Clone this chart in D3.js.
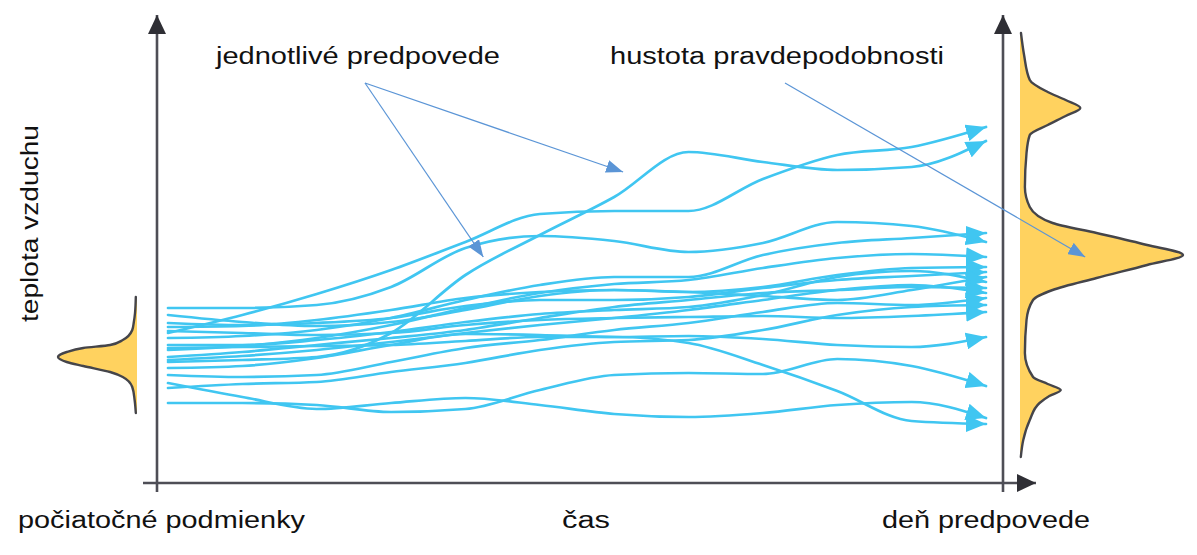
<!DOCTYPE html>
<html><head><meta charset="utf-8">
<script src="https://cdn.jsdelivr.net/npm/d3@7"></script>
<style>
html,body{margin:0;padding:0;background:#fff;}
svg{display:block;}
text{font-family:"Liberation Sans", Arial, sans-serif; fill:#111;}
</style>
</head><body>
<svg id="c" width="1197" height="555"></svg>
<script>
// ---- DATA (temperature index vs. time step) ----
const times = [0,1,2,3,4,5,6,7,8,9,10,11];
const f01 = [15.0,16.8,18.9,21.3,24.1,26.9,27.2,27.2,30.4,32.8,33.6,35.6];
const f02 = [12.1,12.3,12.6,15.0,20.8,24.8,28.6,33.1,32.1,31.3,31.6,34.2];
const f03 = [17.5,17.5,17.8,19.6,23.5,24.7,24.2,23.1,24.0,26.1,25.7,24.1];
const f04 = [10.0,8.6,7.4,8.0,8.5,7.8,6.9,6.6,7.0,7.8,8.1,6.5];
const f05 = [8.0,8.0,7.8,7.1,7.4,9.3,10.8,11.0,10.9,12.4,11.7,9.7];
const f06 = [13.5,13.6,13.7,13.8,14.2,14.6,14.6,14.0,11.8,9.2,6.2,5.9];
const f07 = [11.5,11.7,12.5,13.8,14.9,14.8,14.6,14.7,14.4,13.8,13.6,14.6];
const f08 = [14.5,14.7,15.3,16.5,18.3,19.8,20.6,20.6,22.8,24.0,24.5,25.0];
const f09 = [13.3,13.7,14.5,15.8,17.5,19.0,19.9,20.3,21.5,22.5,22.9,22.6];
const f10 = [16.8,16.1,15.7,16.1,17.3,18.7,19.3,19.1,19.6,20.8,21.5,21.6];
const f11 = [16.0,15.8,16.0,16.5,17.7,18.3,18.3,18.6,19.5,20.3,20.7,21.1];
const f12 = [15.6,15.7,16.3,17.3,18.5,19.1,19.3,19.1,18.7,18.3,19.3,20.6];
const f13 = [13.8,13.8,14.3,15.1,16.1,16.9,17.3,17.6,18.8,20.6,21.2,20.1];
const f14 = [12.6,13.1,13.8,14.5,15.3,16.5,17.6,18.3,19.0,19.3,19.6,19.5];
const f15 = [12.3,12.7,13.3,14.1,15.0,15.8,16.5,17.3,18.3,19.3,19.8,19.0];
const f16 = [10.8,10.6,10.8,12.1,13.5,14.3,15.3,16.0,17.1,18.0,17.8,18.5];
const f17 = [9.5,9.9,10.1,11.1,12.0,13.3,14.1,14.3,15.3,16.8,17.6,17.8];
const f18 = [15.2,15.0,14.8,15.0,15.8,16.3,16.5,16.6,16.7,16.5,16.7,17.1];
const forecasts = [f01,f02,f03,f04,f05,f06,f07,f08,f09,f10,f11,f12,f13,f14,f15,f16,f17,f18];

// initial-condition density (percent of peak)
const initTemp  = [18.6,17.0,16.1,15.3,14.3,13.8,13.5,13.1,12.6,12.1,11.7,11.1,10.6,9.6,8.3,7.0];
const initDens  = [1.5,2.5,4,6,18,34,68,89,100,89,68,34,18,6,3,1.5];
// forecast-day density (percent of peak)
const finalTemp = [45.0,42.8,40.3,39.1,38.3,37.5,36.7,35.8,34.8,33.0,29.6,27.6,26.0,25.0,23.8,22.8,21.8,20.5,19.3,18.3,16.3,13.0,10.6,9.9,9.3,8.7,8.0,6.3,4.3,2.6];
const finalDens = [0.6,2.5,6,17,28,37,28,17,6,4,3,6,20,47,78,100,78,47,20,8,4,3,8,17,25,18,12,6,2,0.5];

const yLabel = "teplota vzduchu";
const xLabelStart = "počiatočné podmienky";
const xLabelMid = "čas";
const xLabelEnd = "deň predpovede";
const noteMembers = "jednotlivé predpovede";
const noteDensity = "hustota pravdepodobnosti";

// ---- LAYOUT ----
const svg = d3.select("#c");
const axisX = 157, axisRight = 1003, axisY = 483;
const x = d3.scaleLinear().domain([0, 11]).range([168, 986]);
const y = d3.scaleLinear().domain([0, 46.5]).range([483, 18]);
const wLeft = d3.scaleLinear().domain([0, 100]).range([137, 58]);
const wRight = d3.scaleLinear().domain([0, 100]).range([1020, 1183]);

const lineColor = "#40c6f1";
const noteColor = "#5b95d6";
const axisColor = "#4e4e56";
const densFill = "#ffd25f";
const densStroke = "#45454a";

const defs = svg.append("defs");
function marker(id, color, len, half) {
  defs.append("marker").attr("id", id)
    .attr("markerUnits", "userSpaceOnUse")
    .attr("viewBox", `0 ${-half} ${len} ${2*half}`)
    .attr("markerWidth", len).attr("markerHeight", 2*half)
    .attr("refX", len).attr("refY", 0).attr("orient", "auto")
    .append("path").attr("d", `M0,${-half}L${len},0L0,${half}Z`).attr("fill", color);
}
marker("mLine", lineColor, 20, 8.5);
marker("mNote", noteColor, 17, 6.5);
marker("mAxis", "#2f2f35", 19, 9);

// ---- forecast lines ----
const lineGen = d3.line().x((d, i) => x(times[i])).y(d => y(d)).curve(d3.curveMonotoneX);
svg.append("g").selectAll("path").data(forecasts).join("path")
  .attr("d", d => lineGen(d))
  .attr("fill", "none").attr("stroke", lineColor).attr("stroke-width", 2.7)
  .attr("stroke-linecap", "round")
  .attr("marker-end", "url(#mLine)");

// ---- densities ----
const initData = initTemp.map((t, i) => ({t, v: initDens[i]}));
const finalData = finalTemp.map((t, i) => ({t, v: finalDens[i]}));
function drawDensity(data, w) {
  const area = d3.area().y(d => y(d.t)).x0(w(0)).x1(d => w(d.v)).curve(d3.curveMonotoneY);
  const edge = d3.line().y(d => y(d.t)).x(d => w(d.v)).curve(d3.curveMonotoneY);
  svg.append("path").attr("d", area(data)).attr("fill", densFill);
  svg.append("path").attr("d", edge(data)).attr("fill", "none")
    .attr("stroke", densStroke).attr("stroke-width", 2.4).attr("stroke-linecap", "round");
}
drawDensity(initData, wLeft);
drawDensity(finalData, wRight);

// ---- axes ----
const ax = svg.append("g").attr("stroke", axisColor).attr("stroke-width", 2.6);
ax.append("line").attr("x1", axisX).attr("y1", 492).attr("x2", axisX).attr("y2", 15).attr("marker-end", "url(#mAxis)");
ax.append("line").attr("x1", axisRight).attr("y1", 492).attr("x2", axisRight).attr("y2", 15).attr("marker-end", "url(#mAxis)");
ax.append("line").attr("x1", 143).attr("y1", axisY).attr("x2", 1036).attr("y2", axisY).attr("marker-end", "url(#mAxis)");

// ---- annotation arrows ----
const notes = [
  {x1: 365, y1: 83, x2: x(6.12), y2: y(31.1)},
  {x1: 365, y1: 83, x2: x(4.24), y2: y(22.6)},
  {x1: 785, y1: 83, x2: wRight(40), y2: y(22.6)}
];
svg.append("g").selectAll("line").data(notes).join("line")
  .attr("x1", d => d.x1).attr("y1", d => d.y1).attr("x2", d => d.x2).attr("y2", d => d.y2)
  .attr("stroke", noteColor).attr("stroke-width", 1.2).attr("marker-end", "url(#mNote)");

// ---- texts ----
const fs = 23.5;
function label(txt, xx, yy, len) {
  svg.append("text").attr("x", xx).attr("y", yy).attr("font-size", fs)
    .attr("textLength", len).attr("lengthAdjust", "spacingAndGlyphs").text(txt);
}
label(noteMembers, 216, 64, 284);
label(noteDensity, 610, 64, 334);
label(xLabelStart, 18, 528, 287);
label(xLabelMid, 562, 528, 48);
label(xLabelEnd, 882, 528, 208);
svg.append("text").attr("transform", "translate(38,322) rotate(-90)")
  .attr("font-size", fs).attr("textLength", 197).attr("lengthAdjust", "spacingAndGlyphs").text(yLabel);
</script>
</body></html>
